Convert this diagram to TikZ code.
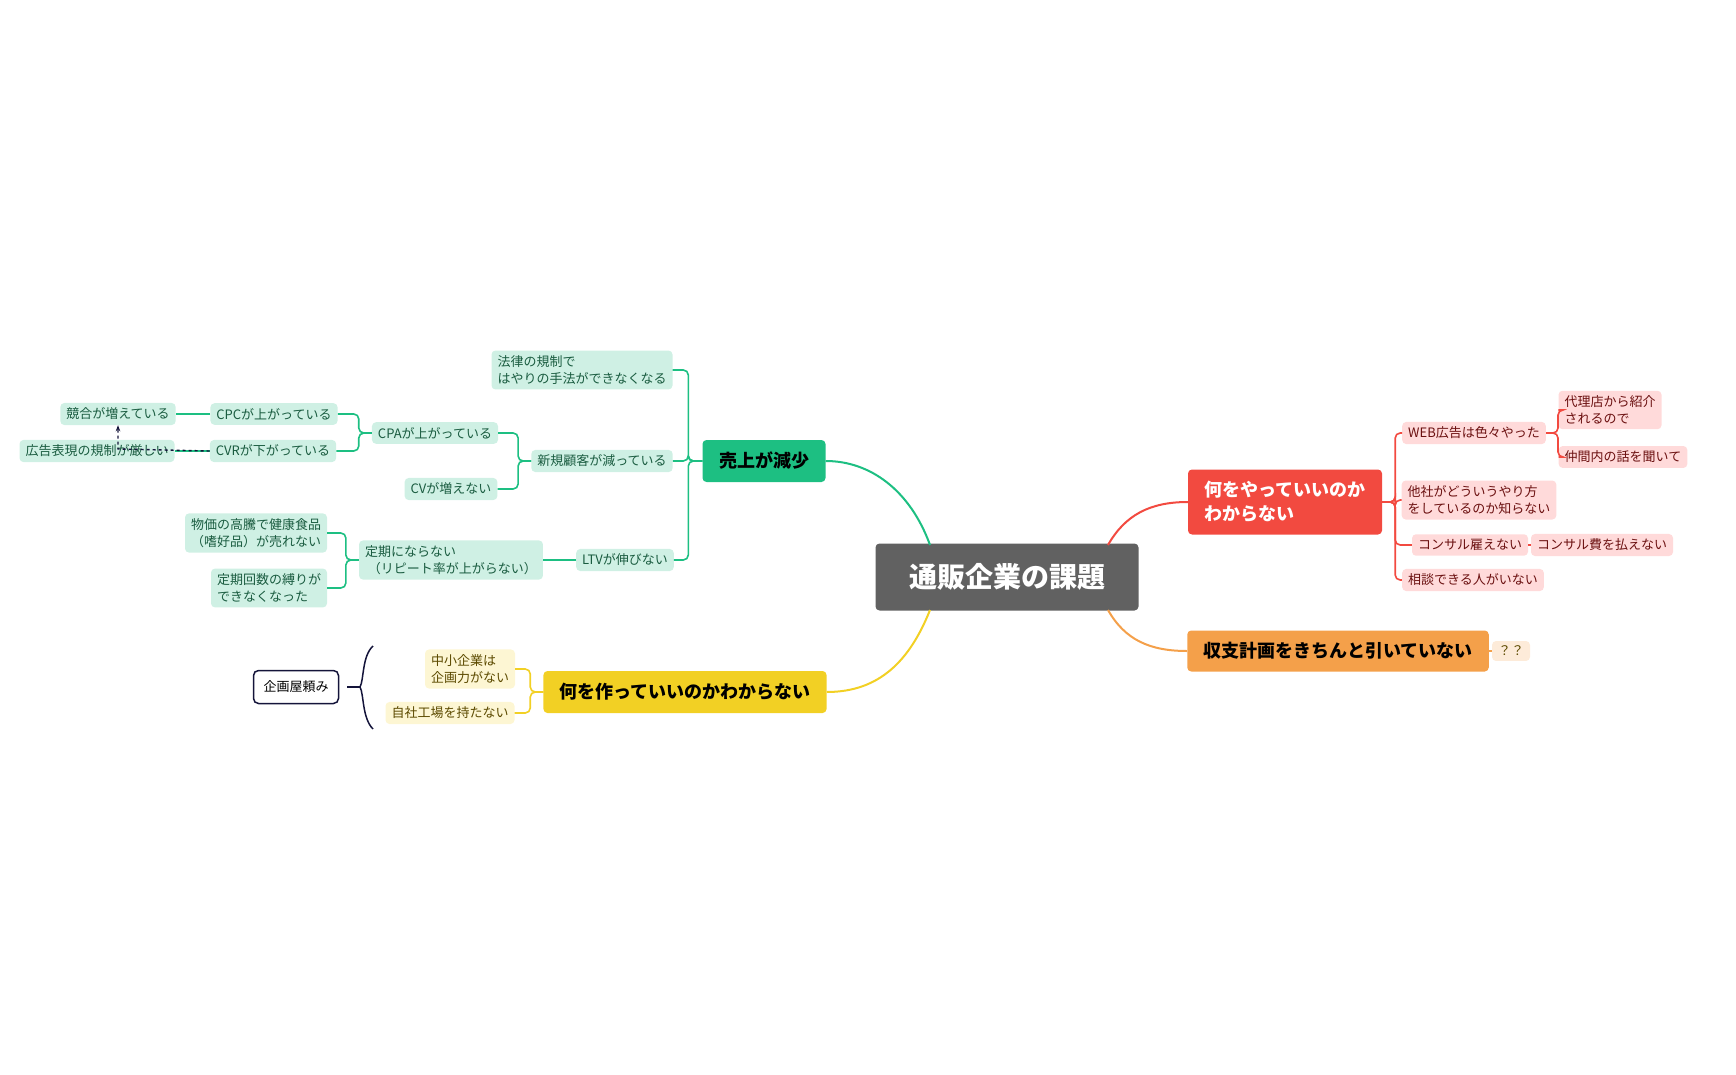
\documentclass[tikz,border=0pt]{standalone}
\usepackage{fontspec}
\setmainfont{Noto Sans CJK JP}
\usetikzlibrary{arrows.meta}
\definecolor{gline}{HTML}{1DBF82}
\definecolor{gfill}{HTML}{CFF0E4}
\definecolor{gtext}{HTML}{1A5C40}
\definecolor{rline}{HTML}{F24A40}
\definecolor{rfill}{HTML}{FFDADA}
\definecolor{rtext}{HTML}{6B1010}
\definecolor{yline}{HTML}{F2D024}
\definecolor{yfill}{HTML}{FDF6D3}
\definecolor{ytext}{HTML}{5C4A00}
\definecolor{oline}{HTML}{F4A04A}
\definecolor{ofill}{HTML}{FDEBD9}
\definecolor{navy}{HTML}{14143A}
\tikzset{
  leaf/.style={rounded corners=4pt,inner xsep=6pt,inner ysep=5pt,align=left,font=\fontsize{13}{17}\selectfont},
  gleaf/.style={leaf,fill=gfill,text=gtext},
  rleaf/.style={leaf,fill=rfill,text=rtext},
  yleaf/.style={leaf,fill=yfill,text=ytext},
  topic/.style={rounded corners=4pt,inner xsep=16pt,inner ysep=9pt,align=left,font=\fontsize{18}{24}\selectfont\bfseries},
  gcon/.style={draw=gline,line width=1.6pt,rounded corners=5pt},
  rcon/.style={draw=rline,line width=1.6pt,rounded corners=5pt},
  ycon/.style={draw=yline,line width=1.6pt,rounded corners=5pt},
  ocon/.style={draw=oline,line width=1.6pt,rounded corners=5pt},
}
\begin{document}
\begin{tikzpicture}[x=1pt,y=-1pt]
\useasboundingbox (0,0) rectangle (1736,1075);
% center
\node[fill=black!62,text=white,rounded corners=4pt,minimum width=263pt,minimum height=67pt,font=\fontsize{28}{34}\selectfont\bfseries] (c) at (1007,577) {通販企業の課題};
% topics
\node[topic,fill=gline,text=black,minimum width=123pt,minimum height=42pt] (uri) at (764,461) {売上が減少};
\node[topic,fill=rline,text=white,minimum width=194pt,minimum height=65pt] (nani) at (1285,502) {何をやっていいのか\\わからない};
\node[topic,fill=oline,text=black,minimum width=300pt,minimum height=41pt] (shu) at (1338,651) {収支計画をきちんと引いていない};
\node[topic,fill=yline,text=black,minimum width=283pt,minimum height=42pt] (tsu) at (685,692) {何を作っていいのかわからない};
% center connectors
\draw[draw=gline,line width=2pt] (930,545) .. controls (910,490) and (870,461) .. (uri.east);
\draw[draw=rline,line width=2pt] (1108,545) .. controls (1125,515) and (1150,502) .. (nani.west);
\draw[draw=oline,line width=2pt] (1108,610) .. controls (1125,640) and (1150,651) .. (shu.west);
\draw[draw=yline,line width=2pt] (930,610) .. controls (910,660) and (880,692) .. (tsu.east);
% green leaves
\node[gleaf] (hou) at (582,370) {法律の規制で\\はやりの手法ができなくなる};
\node[gleaf] (shin) at (602,461) {新規顧客が減っている};
\node[gleaf] (ltv) at (625,560) {LTVが伸びない};
\node[gleaf] (cpa) at (435,433) {CPAが上がっている};
\node[gleaf] (cv) at (451,489) {CVが増えない};
\node[gleaf] (cpc) at (274,414) {CPCが上がっている};
\node[gleaf] (cvr) at (273,451) {CVRが下がっている};
\node[gleaf] (kyo) at (118,414) {競合が増えている};
\node[gleaf] (kou) at (97,451) {広告表現の規制が厳しい};
\node[gleaf] (tei) at (451,560) {定期にならない\\\ （リピート率が上がらない）};
\node[gleaf] (bukka) at (256,533) {物価の高騰で健康食品\\（嗜好品）が売れない};
\node[gleaf] (kai) at (269,588) {定期回数の縛りが\\できなくなった};
\foreach \ch in {hou,shin,ltv} \draw[gcon] (uri.west) -- ++(-14,0) |- (\ch.east);
\foreach \ch in {cpa,cv} \draw[gcon] (shin.west) -- ++(-13,0) |- (\ch.east);
\foreach \ch in {cpc,cvr} \draw[gcon] (cpa.west) -- ++(-13,0) |- (\ch.east);
\draw[gcon] (cpc.west) -- (kyo.east);
\draw[gcon] (cvr.west) -- (kou.east);
\draw[gcon] (ltv.west) -- (tei.east);
\foreach \ch in {bukka,kai} \draw[gcon] (tei.west) -- ++(-13,0) |- (\ch.east);
\coordinate (dk) at (118,449);
\draw[navy,line width=1.4pt,dashed,-{Stealth[length=6pt]}] (cvr.west) -- (dk) -- (kyo.south);
% yellow
\node[yleaf] (chu) at (470,669) {中小企業は\\企画力がない};
\node[yleaf] (jisha) at (450,713) {自社工場を持たない};
\foreach \ch in {chu,jisha} \draw[ycon] (tsu.west) -- ++(-13,0) |- (\ch.east);
\node[draw=navy,line width=1.5pt,fill=white,rounded corners=5pt,inner xsep=10pt,minimum height=33pt,font=\fontsize{13}{17}\selectfont] (kika) at (296,687) {企画屋頼み};
\coordinate (br) at (360,687);
\draw[navy,line width=1.5pt] (373,646) .. controls (362,656) and (364,680) .. (br) .. controls (364,694) and (362,718) .. (373,729);
\draw[navy,line width=1.5pt] (kika.east) ++(8,0) -- (br);
% red
\node[rleaf] (web) at (1474,433) {WEB広告は色々やった};
\node[rleaf] (dai) at (1610,410) {代理店から紹介\\されるので};
\node[rleaf] (naka) at (1623,457) {仲間内の話を聞いて};
\node[rleaf] (tasha) at (1479,500) {他社がどういうやり方\\をしているのか知らない};
\node[rleaf] (kon) at (1470,545) {コンサル雇えない};
\node[rleaf] (konh) at (1602,545) {コンサル費を払えない};
\node[rleaf] (sou) at (1473,580) {相談できる人がいない};
\foreach \ch in {web,tasha,kon,sou} \draw[rcon] (nani.east) -- ++(13,0) |- (\ch.west);
\foreach \ch in {dai,naka} \draw[rcon] (web.east) -- ++(12,0) |- (\ch.west);
\draw[rcon] (kon.east) -- (konh.west);
% orange
\node[leaf,fill=ofill,text=ytext] (qq) at (1511,651) {？？};
\draw[ocon] (shu.east) -- (qq.west);
\end{tikzpicture}
\end{document}
